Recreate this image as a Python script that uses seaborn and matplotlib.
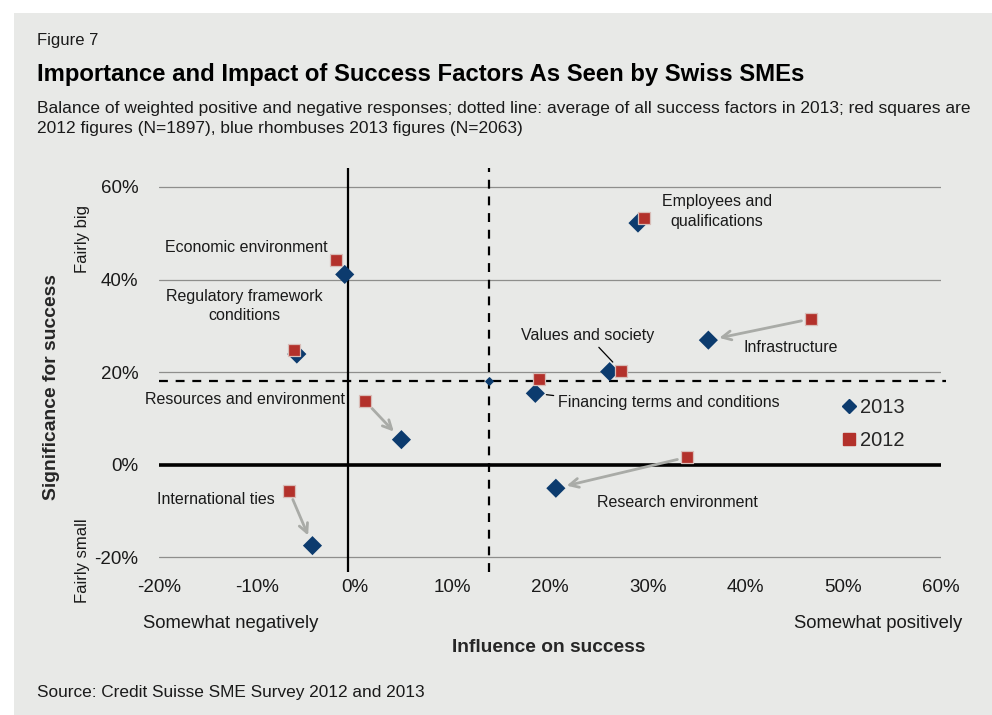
import numpy as np
import pandas as pd
import matplotlib.pyplot as plt
import matplotlib.patches as patches
from matplotlib.lines import Line2D
import seaborn as sns

# Dados (em %)
factors = ['Employees and qualifications', 'Economic environment', 'Regulatory framework conditions',
           'Values and society', 'Infrastructure', 'Financing terms and conditions',
           'Resources and environment', 'Research environment', 'International ties']
influence_2013 = [29.0, -1.0, -5.9, 26.1, 36.2, 18.5, 4.8, 20.6, -4.3]
significance_2013 = [52.2, 41.1, 23.9, 20.1, 26.9, 15.4, 5.4, -5.1, -17.5]
influence_2012 = [29.6, -1.9, -6.2, 27.3, 46.7, 18.9, 1.1, 34.0, -6.7]
significance_2012 = [53.4, 44.2, 24.8, 20.2, 31.5, 18.4, 13.7, 1.6, -5.6]
avg_influence_2013 = 13.8
avg_significance_2013 = 18.0

x_ticks = [-20, -10, 0, 10, 20, 30, 40, 50, 60]
y_ticks = [-20, 0, 20, 40, 60]
arrow_factors = ['Infrastructure', 'Resources and environment', 'Research environment', 'International ties']

color_2013 = '#0c3b6e'
color_2012 = '#b3312b'
color_bg = '#e8e9e7'
color_arrow = '#a9aba7'

sns.set_theme(style='white')
plt.rcParams['font.family'] = ['Liberation Sans', 'DejaVu Sans']

df = pd.DataFrame({
    'factor': factors * 2,
    'influence': influence_2013 + influence_2012,
    'significance': significance_2013 + significance_2012,
    'year': ['2013'] * len(factors) + ['2012'] * len(factors),
})

def fx(px):
    return px / 992

def fy(py):
    return 1 - py / 715

fig = plt.figure(figsize=(9.92, 7.15), dpi=100, facecolor='white')
fig.patches.append(patches.Rectangle((fx(14), 0), 1 - fx(14), fy(13), transform=fig.transFigure,
                                     facecolor=color_bg, edgecolor='none', zorder=-10))
ax = fig.add_axes([fx(159), fy(572), fx(941) - fx(159), fy(168) - fy(572)])
ax.set_facecolor('none')

# linhas de referencia
for v in y_ticks:
    if v != 0:
        ax.axhline(v, color='#8e8e8c', lw=0.9, zorder=1)
ax.axhline(0, color='black', lw=2.6, zorder=2)
ax.axvline(-0.65, color='black', lw=1.6, zorder=2)
ax.axvline(avg_influence_2013, color='black', lw=1.6, ls=(0, (4, 3.5)), zorder=2)
ax.axhline(avg_significance_2013, xmax=1.006, color='black', lw=1.6, ls=(0, (4, 3.5)), zorder=2, clip_on=False)
ax.scatter([avg_influence_2013], [avg_significance_2013], marker='D', s=14, color=color_2013, zorder=3)

# setas 2012 -> 2013
for f in arrow_factors:
    i = factors.index(f)
    ax.annotate('', xy=(influence_2013[i], significance_2013[i]), xytext=(influence_2012[i], significance_2012[i]),
                arrowprops=dict(arrowstyle='->', color=color_arrow, lw=2, shrinkA=7, shrinkB=8, mutation_scale=16),
                zorder=3)

sns.scatterplot(data=df[df['year'] == '2013'], x='influence', y='significance', marker='D', s=95,
                color=color_2013, edgecolor='none', legend=False, ax=ax, zorder=4)
sns.scatterplot(data=df[df['year'] == '2012'], x='influence', y='significance', marker='s', s=85,
                color=color_2012, edgecolor='#d8bdb8', linewidth=0.9, legend=False, ax=ax, zorder=5)

# rotulos
label_fs = 11.5
labels = {
    'Employees and\nqualifications': (37.1, 54.7, 'center'),
    'Economic environment': (-2.75, 46.9, 'right'),
    'Regulatory framework\nconditions': (-11.25, 34.3, 'center'),
    'Infrastructure': (39.8, 25.4, 'left'),
    'Resources and environment': (-1.0, 14.1, 'right'),
    'Research environment': (24.8, -8.1, 'left'),
    'International ties': (-8.2, -7.5, 'right'),
}
for txt, (x, y, ha) in labels.items():
    ax.text(x, y, txt, ha=ha, va='center', fontsize=label_fs, color='#1a1a1a', linespacing=1.4, zorder=6)

i = factors.index('Values and society')
ax.annotate('Values and society', xy=(influence_2012[i], significance_2012[i]), xytext=(23.9, 27.9),
            ha='center', va='center', fontsize=label_fs, color='#1a1a1a',
            arrowprops=dict(arrowstyle='-', color='black', lw=0.9, relpos=(0.55, 0), shrinkA=1, shrinkB=9))
i = factors.index('Financing terms and conditions')
ax.annotate('Financing terms and conditions', xy=(influence_2013[i], significance_2013[i]), xytext=(20.85, 13.4),
            ha='left', va='center', fontsize=label_fs, color='#1a1a1a',
            arrowprops=dict(arrowstyle='-', color='black', lw=0.9, relpos=(0.02, 0.9), shrinkA=1, shrinkB=8))

# legenda
handles = [Line2D([], [], marker='D', ls='', color=color_2013, markersize=7),
           Line2D([], [], marker='s', ls='', color=color_2012, markersize=8)]
ax.legend(handles, ['2013', '2012'], loc='upper left', bbox_to_anchor=(fx(843), fy(398)),
          bbox_transform=fig.transFigure, frameon=False, fontsize=14.5, handlelength=0.6,
          handletextpad=0.25, labelspacing=0.7, borderpad=0, borderaxespad=0)

ax.set_xlim(-20, 60)
ax.set_ylim(-23.2, 64.1)
ax.set_xticks(x_ticks)
ax.set_xticklabels([f'{v}%' for v in x_ticks])
ax.set_yticks(y_ticks)
ax.set_yticklabels([f'{v}%' for v in y_ticks])
ax.tick_params(axis='both', length=0, labelsize=13.5, colors='#1a1a1a')
ax.tick_params(axis='x', pad=5)
ax.tick_params(axis='y', pad=15)
ax.set_xlabel('')
ax.set_ylabel('')
sns.despine(ax=ax, left=True, bottom=True)

# textos da figura
fig.text(fx(37), fy(40), 'Figure 7', fontsize=12, va='center', color='#1a1a1a')
fig.text(fx(37), fy(75), 'Importance and Impact of Success Factors As Seen by Swiss SMEs', fontsize=17.2,
         fontweight='bold', va='center', color='black')
fig.text(fx(37), fy(108), 'Balance of weighted positive and negative responses; dotted line: average of all '
         'success factors in 2013; red squares are', fontsize=12.5, va='center', color='#1a1a1a')
fig.text(fx(37), fy(129), '2012 figures (N=1897), blue rhombuses 2013 figures (N=2063)', fontsize=12.5,
         va='center', color='#1a1a1a')
fig.text(fx(52), fy(387), 'Significance for success', rotation=90, fontsize=13.9, fontweight='bold',
         ha='center', va='center')
fig.text(fx(83), fy(273), 'Fairly big', rotation=90, fontsize=12, ha='center', va='bottom', color='#1a1a1a')
fig.text(fx(83), fy(518), 'Fairly small', rotation=90, fontsize=12, ha='center', va='top', color='#1a1a1a')
fig.text(fx(143), fy(624), 'Somewhat negatively', fontsize=13.3, va='center', color='#1a1a1a')
fig.text(fx(962), fy(624), 'Somewhat positively', fontsize=13.3, va='center', ha='right', color='#1a1a1a')
fig.text(fx(549), fy(648), 'Influence on success', fontsize=13.8, fontweight='bold', ha='center', va='center')
fig.text(fx(37), fy(693), 'Source: Credit Suisse SME Survey 2012 and 2013', fontsize=12.4, va='center',
         color='#1a1a1a')

fig.savefig('out.png', dpi=100)
